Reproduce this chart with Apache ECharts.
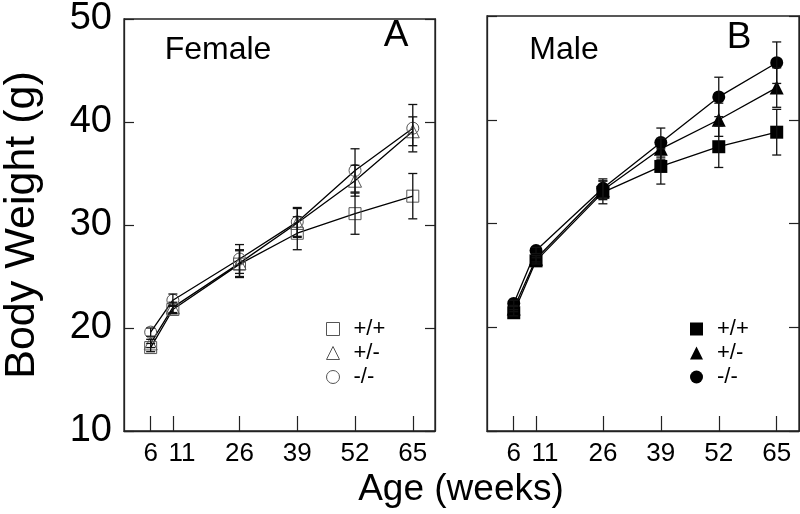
<!DOCTYPE html>
<html>
<head>
<meta charset="utf-8">
<script src="https://cdn.jsdelivr.net/npm/echarts@6/dist/echarts.min.js"></script>
<style>
  html, body { margin: 0; padding: 0; background: #fff; }
  #main { width: 800px; height: 514px; }
</style>
</head>
<body>
<div id="main"></div>
<script>
var FONT = '"Liberation Sans", Arial, sans-serif';

// age in weeks
var weeks = [6, 11, 26, 39, 52, 65];
var yTicks = [10, 20, 30, 40, 50];
var genotypes = ['+/+', '+/-', '-/-'];

// female body weight (g) and error
var femaleWT = [18.1, 21.8, 26.2, 29.2, 31.1, 32.8];
var femaleWTErr = [0.4, 0.4, 1.3, 1.6, 2.0, 2.2];
var femaleHet = [18.5, 22.0, 26.3, 30.2, 34.3, 39.1];
var femaleHetErr = [0.4, 0.5, 1.3, 1.4, 1.5, 1.4];
var femaleKO = [19.6, 22.7, 26.7, 30.3, 35.3, 39.4];
var femaleKOErr = [0.4, 0.6, 1.4, 1.4, 2.1, 2.3];

// male body weight (g) and error
var maleWT = [21.4, 26.4, 33.0, 35.5, 37.4, 38.8];
var maleWTErr = [0.3, 0.3, 1.1, 1.7, 2.0, 2.2];
var maleHet = [21.8, 26.6, 33.2, 37.2, 40.0, 43.1];
var maleHetErr = [0.3, 0.3, 0.9, 1.0, 1.6, 1.9];
var maleKO = [22.3, 27.4, 33.4, 37.8, 42.2, 45.5];
var maleKOErr = [0.3, 0.3, 0.9, 1.4, 1.9, 2.0];

function points (vals) {
  var out = [];
  for (var i = 0; i < weeks.length; i++) out.push([weeks[i], vals[i]]);
  return out;
}
function bars (vals, errs) {
  var out = [];
  for (var i = 0; i < weeks.length; i++) out.push([weeks[i], vals[i] - errs[i], vals[i] + errs[i]]);
  return out;
}

function renderErr (params, api) {
  var x = api.value(0);
  var lo = api.coord([x, api.value(1)]);
  var hi = api.coord([x, api.value(2)]);
  var w = 4.5;
  var st = { stroke: '#111', lineWidth: 1.3 };
  return {
    type: 'group',
    children: [
      { type: 'line', shape: { x1: hi[0], y1: hi[1], x2: lo[0], y2: lo[1] }, style: st },
      { type: 'line', shape: { x1: hi[0] - w, y1: hi[1], x2: hi[0] + w, y2: hi[1] }, style: st },
      { type: 'line', shape: { x1: lo[0] - w, y1: lo[1], x2: lo[0] + w, y2: lo[1] }, style: st }
    ]
  };
}

var symbols = ['rect', 'triangle', 'circle'];
var symSize = [12, 13, 12];
var openStyle = { color: 'transparent', borderColor: '#555', borderWidth: 1 };
var fillStyle = { color: '#000', borderColor: '#000', borderWidth: 0 };

function lineSeries (name, vals, k, gi, filled) {
  return {
    type: 'line',
    name: name,
    xAxisIndex: gi,
    yAxisIndex: gi * 2,
    data: points(vals),
    symbol: symbols[k],
    symbolSize: filled ? symSize[k] + 1 : symSize[k],
    showAllSymbol: true,
    lineStyle: { color: '#000', width: 1.3 },
    itemStyle: filled ? fillStyle : openStyle,
    z: 3
  };
}
function errSeries (vals, errs, gi) {
  return {
    type: 'custom',
    xAxisIndex: gi,
    yAxisIndex: gi * 2,
    data: bars(vals, errs),
    renderItem: renderErr,
    encode: { x: 0, y: [1, 2] },
    silent: true,
    z: 4
  };
}

function xAxisFor (gi) {
  return {
    type: 'value',
    gridIndex: gi,
    min: 0,
    max: 70,
    splitLine: { show: false },
    axisLine: { show: true, lineStyle: { color: '#222', width: 1.3 } },
    axisTick: { show: true, inside: true, length: 15, customValues: weeks, lineStyle: { color: '#222', width: 1.2 } },
    axisLabel: {
      show: true,
      customValues: weeks,
      margin: 10,
      color: '#000',
      fontSize: 26,
      fontFamily: FONT,
      // "11" sits a little right of its tick in the original
      formatter: function (v) { return v === 11 ? '{s|11}' : String(v); },
      rich: { s: { fontSize: 26, fontFamily: FONT, color: '#000', padding: [0, 0, 0, 18] } }
    }
  };
}
function yAxisFor (gi, pos, labels) {
  var ax = {
    type: 'value',
    gridIndex: gi,
    position: pos,
    min: yTicks[0],
    max: yTicks[yTicks.length - 1],
    interval: 10,
    splitLine: { show: false },
    axisLine: { show: true, lineStyle: { color: '#222', width: 1.3 } },
    axisTick: { show: true, inside: true, length: 10, lineStyle: { color: '#222', width: 1.2 } },
    axisLabel: { show: labels, margin: 12, color: '#000', fontSize: 38, fontFamily: FONT }
  };
  if (labels) {
    ax.name = 'Body Weight (g)';
    ax.nameLocation = 'middle';
    ax.nameGap = 80;
    ax.nameTextStyle = { color: '#000', fontSize: 43, fontFamily: FONT };
  }
  return ax;
}

function legendFor (left, filled, suffix) {
  var data = [];
  for (var k = 0; k < genotypes.length; k++) {
    data.push({
      name: genotypes[k] + suffix,
      icon: symbols[k],
      itemStyle: filled ? fillStyle : openStyle
    });
  }
  return {
    orient: 'vertical',
    left: left,
    top: 318,
    itemWidth: 13,
    itemHeight: 13,
    itemGap: 2,
    padding: 0,
    selectedMode: false,
    data: data,
    formatter: function (n) { return n.trim(); },
    textStyle: { color: '#000', fontSize: 22, fontFamily: FONT, padding: [0, 0, 0, 9] }
  };
}

var dom = document.getElementById('main');
var myChart = echarts.init(dom, null, { renderer: 'canvas' });

var option = {
  backgroundColor: '#fff',
  animation: false,
  grid: [
    { left: 124, right: 365, top: 16, bottom: 83, show: true, borderColor: '#222', borderWidth: 1.3 },
    { left: 487, right: 1, top: 16, bottom: 83, show: true, borderColor: '#222', borderWidth: 1.3 }
  ],
  xAxis: [xAxisFor(0), xAxisFor(1)],
  yAxis: [yAxisFor(0, 'left', true), yAxisFor(0, 'right', false), yAxisFor(1, 'left', false), yAxisFor(1, 'right', false)],
  legend: [legendFor(326, false, ''), legendFor(690, true, ' ')],
  graphic: [
    { type: 'text', x: 218, y: 50, style: { text: 'Female', font: '32px ' + FONT, fill: '#000', textAlign: 'center', textVerticalAlign: 'middle' } },
    { type: 'text', x: 396, y: 36, style: { text: 'A', font: '37px ' + FONT, fill: '#000', textAlign: 'center', textVerticalAlign: 'middle' } },
    { type: 'text', x: 564, y: 50, style: { text: 'Male', font: '32px ' + FONT, fill: '#000', textAlign: 'center', textVerticalAlign: 'middle' } },
    { type: 'text', x: 739, y: 38, style: { text: 'B', font: '37px ' + FONT, fill: '#000', textAlign: 'center', textVerticalAlign: 'middle' } },
    { type: 'text', x: 461, y: 490, style: { text: 'Age (weeks)', font: '37px ' + FONT, fill: '#000', textAlign: 'center', textVerticalAlign: 'middle' } }
  ],
  series: [
    lineSeries('+/+', femaleWT, 0, 0, false),
    lineSeries('+/-', femaleHet, 1, 0, false),
    lineSeries('-/-', femaleKO, 2, 0, false),
    errSeries(femaleWT, femaleWTErr, 0),
    errSeries(femaleHet, femaleHetErr, 0),
    errSeries(femaleKO, femaleKOErr, 0),
    lineSeries('+/+ ', maleWT, 0, 1, true),
    lineSeries('+/- ', maleHet, 1, 1, true),
    lineSeries('-/- ', maleKO, 2, 1, true),
    errSeries(maleWT, maleWTErr, 1),
    errSeries(maleHet, maleHetErr, 1),
    errSeries(maleKO, maleKOErr, 1)
  ]
};
myChart.setOption(option);
window.onresize = myChart.resize;
</script>
</body>
</html>
